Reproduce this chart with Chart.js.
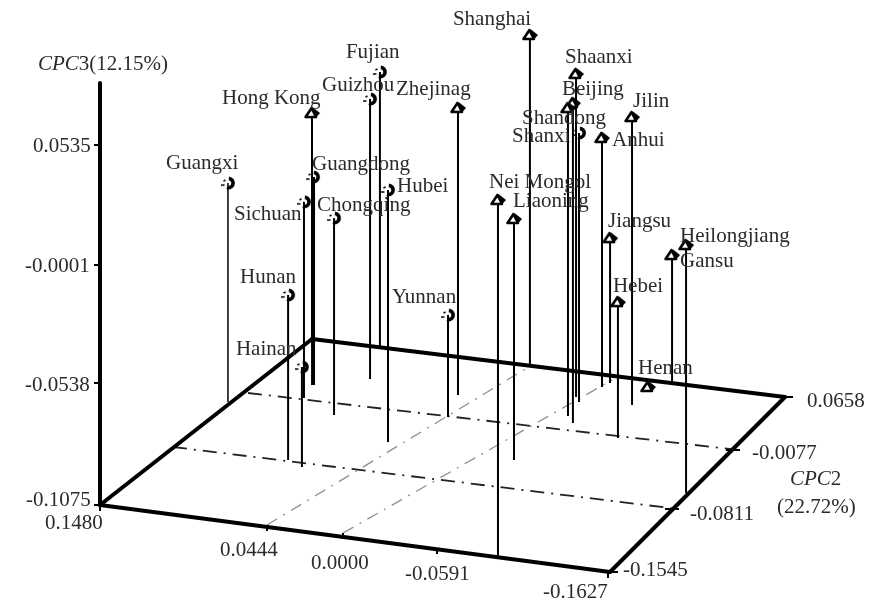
<!doctype html>
<html><head><meta charset="utf-8"><style>html,body{margin:0;background:#fff}canvas{display:block}</style>
<script src="https://cdn.jsdelivr.net/npm/chart.js@4"></script></head>
<body><canvas id="c" width="880" height="607"></canvas>
<script>
// ---- data ----
const cities=["Shanghai","Shaanxi","Fujian","Guizhou","Zhejinag","Hong Kong","Beijing","Jilin","Shandong","Shanxi","Anhui","Guangxi","Guangdong","Hubei","Sichuan","Chongqing","Nei Mongol","Liaoning","Jiangsu","Heilongjiang","Gansu","Hunan","Hebei","Yunnan","Hainan","Henan"];
const cpc1=[0.0037,-0.0434,0.1028,0.0859,0.0250,0.1458,-0.0578,-0.0802,-0.0507,-0.0482,-0.0519,0.1500,0.1141,0.0334,0.1101,0.0814,-0.0955,-0.0476,-0.0540,-0.1611,-0.0890,0.0766,-0.0921,0.0162,0.0644,-0.0807];
const cpc2=[0.0667,0.0346,0.0662,0.0256,0.0195,0.0621,0.0033,0.0333,0.0108,0.0291,0.0506,-0.0227,0.0099,-0.0454,-0.0068,-0.0223,-0.1542,-0.0477,0.0567,-0.0601,0.0672,-0.0798,-0.0076,-0.0079,-0.0856,0.0526];
const cpc3=[0.0401,0.0370,0.0155,0.0177,0.0209,-0.0051,0.0356,0.0213,0.0302,0.0128,0.0039,-0.0096,-0.0145,0.0052,-0.0198,-0.0194,0.0522,0.0003,-0.0427,0.0034,-0.0507,-0.0337,-0.0467,-0.0619,-0.0628,-0.1057];
const cpc1Ticks=["0.1480","0.0444","0.0000","-0.0591","-0.1627"];
const cpc2Ticks=["-0.1545","-0.0811","-0.0077","0.0658"];
const cpc3Ticks=["0.0535","-0.0001","-0.0538","-0.1075"];

// ---- layout of the drawing (not data) ----
const C1=[0.148,-0.1627],C2=[-0.1545,0.0658],FLOOR=-0.1075,VSCALE=2236;
const corners=[[100,505],[610,572],[785,397],[312,339]];
const homo=(()=>{const[a,b,c,d]=corners;const dx1=b[0]-c[0],dx2=d[0]-c[0],sx=a[0]-b[0]+c[0]-d[0],dy1=b[1]-c[1],dy2=d[1]-c[1],sy=a[1]-b[1]+c[1]-d[1],det=dx1*dy2-dx2*dy1,g=(sx*dy2-dx2*sy)/det,h=(dx1*sy-sx*dy1)/det;return[b[0]-a[0]+g*b[0],d[0]-a[0]+h*d[0],a[0],b[1]-a[1]+g*b[1],d[1]-a[1]+h*d[1],a[1],g,h];})();
function project(c1,c2,c3){const u=(C1[0]-c1)/(C1[0]-C1[1]),v=(c2-C2[0])/(C2[1]-C2[0]);const w=homo[6]*u+homo[7]*v+1;return{x:(homo[0]*u+homo[1]*v+homo[2])/w,y:(homo[3]*u+homo[4]*v+homo[5])/w-(c3-FLOOR)*VSCALE};}
const labelOffsets=[[-77,-10],[-11,-11],[-34,-14],[-48,-8],[-62,-13],[-90,-9],[-11,-8],[1,-10],[-46,16],[-67,9],[10,8],[-62,-14],[-1,-7],[9,2],[-70,18],[-17,-7],[-9,-12],[-1,-12],[-2,-11],[-6,-3],[8,12],[-48,-12],[-5,-10],[-56,-12],[-66,-12],[-10,-13]];
const markerKinds="TTCCTTTTTCTCCCCCTTTTTCTCCT";
const stemWidth=i=>cities[i]==="Guangdong"?4:(cities[i]==="Guangxi"?1.5:2);
const frame=[[[100,83],[100,505]],[[100,505],[610,572]],[[610,572],[785,397]],[[785,397],[312,339]],[[312,339],[100,505]]];
const darkGrid=[[[173,447],[678,509]],[[248,393],[738,450]]];
const lightGrid=[[[267,525],[527,368]],[[343,533],[612,380]]];
const tickMarks=[[[94,145],[100,145]],[[94,265],[100,265]],[[94,383],[100,383]],[[94,505],[100,505]],[[100,505],[100,511]],[[267,525],[267,531]],[[343,533],[343,539]],[[437,548],[437,554]],[[608,572],[608,578]],[[610,572],[618,572]],[[665,509],[679,509]],[[726,450],[740,450]],[[785,397],[793,397]]];
const tickText=[
 [cpc3Ticks[0],33,152],[cpc3Ticks[1],25,272],[cpc3Ticks[2],25,391],[cpc3Ticks[3],26,506],
 [cpc1Ticks[0],45,529],[cpc1Ticks[1],220,556],[cpc1Ticks[2],311,569],[cpc1Ticks[3],405,580],[cpc1Ticks[4],543,598],
 [cpc2Ticks[0],623,576],[cpc2Ticks[1],690,520],[cpc2Ticks[2],752,459],[cpc2Ticks[3],807,407]];
const FONT="21px 'Liberation Serif'",FONTI="italic 21px 'Liberation Serif'",INK="#2b2b2b";

function makeMarker(kind){const k=document.createElement('canvas');k.width=18;k.height=16;const g=k.getContext('2d');g.strokeStyle='#000';g.fillStyle='#000';
 if(kind==='T'){g.lineWidth=2.6;g.lineJoin='round';g.fillStyle='#fff';g.beginPath();g.moveTo(8.5,3);g.lineTo(2.5,12);g.lineTo(13,12);g.closePath();g.fill();g.stroke();g.fillStyle='#000';g.beginPath();g.moveTo(9.5,2);g.lineTo(17,8);g.lineTo(12.5,13);g.closePath();g.fill();}
 else{g.lineWidth=3.6;g.beginPath();g.arc(9.5,8,4.6,-1.5,1.9);g.stroke();g.lineWidth=1.5;g.beginPath();g.moveTo(2,10);g.lineTo(5.5,10);g.moveTo(4.5,6);g.lineTo(6.5,5);g.stroke();}
 return k;}
const mT=makeMarker('T'),mC=makeMarker('C');

const seg=(pts,o)=>Object.assign({type:'scatter',showLine:true,data:pts.map(p=>({x:p[0],y:p[1]})),pointRadius:0,borderColor:'#000',borderWidth:2,clip:false,fill:false,tension:0},o);
const datasets=[];
frame.forEach(s=>datasets.push(seg(s,{borderWidth:4,order:1,borderCapStyle:'round'})));
tickMarks.forEach(s=>datasets.push(seg(s,{borderWidth:2,order:1})));
darkGrid.forEach(s=>datasets.push(seg(s,{borderWidth:1.8,borderColor:'#222',borderDash:[14,7,2,7],order:4})));
lightGrid.forEach(s=>datasets.push(seg(s,{borderWidth:1.3,borderColor:'#8f8f8f',borderDash:[12,7,2,7],order:4})));
cities.forEach((c,i)=>{const b=project(cpc1[i],cpc2[i],FLOOR),t=project(cpc1[i],cpc2[i],cpc3[i]);
 datasets.push({type:'scatter',showLine:true,data:[b,t],pointRadius:0,borderColor:'#000',borderWidth:stemWidth(i),clip:false,order:2});});
datasets.push({type:'scatter',showLine:false,label:'marks',clip:false,order:0,
 data:cities.map((c,i)=>project(cpc1[i],cpc2[i],cpc3[i])),
 pointStyle:cities.map((c,i)=>markerKinds[i]==='T'?mT:mC),pointRadius:8});

const textPlugin={id:'texts',afterDatasetsDraw(chart){const g=chart.ctx,X=chart.scales.x,Y=chart.scales.y;g.save();g.fillStyle=INK;g.textBaseline='alphabetic';g.textAlign='left';g.font=FONT;
 cities.forEach((c,i)=>{const p=project(cpc1[i],cpc2[i],cpc3[i]);g.fillText(c,X.getPixelForValue(p.x)+labelOffsets[i][0],Y.getPixelForValue(p.y)+labelOffsets[i][1]);});
 tickText.forEach(([t,x,y])=>g.fillText(t,X.getPixelForValue(x),Y.getPixelForValue(y)));
 g.font=FONTI;g.fillText('CPC',38,70);let w=g.measureText('CPC').width;g.font=FONT;g.fillText('3(12.15%)',38+w,70);
 g.font=FONTI;g.fillText('CPC',790,485);w=g.measureText('CPC').width;g.font=FONT;g.fillText('2',790+w,485);g.fillText('(22.72%)',777,513);
 g.restore();}};

new Chart(document.getElementById('c'),{type:'scatter',data:{datasets},plugins:[textPlugin],options:{responsive:false,animation:false,
 layout:{padding:0,autoPadding:false},plugins:{legend:{display:false},tooltip:{enabled:false}},
 scales:{x:{type:'linear',min:0,max:880,display:false},y:{type:'linear',min:0,max:607,reverse:true,display:false}}}});
</script></body></html>
